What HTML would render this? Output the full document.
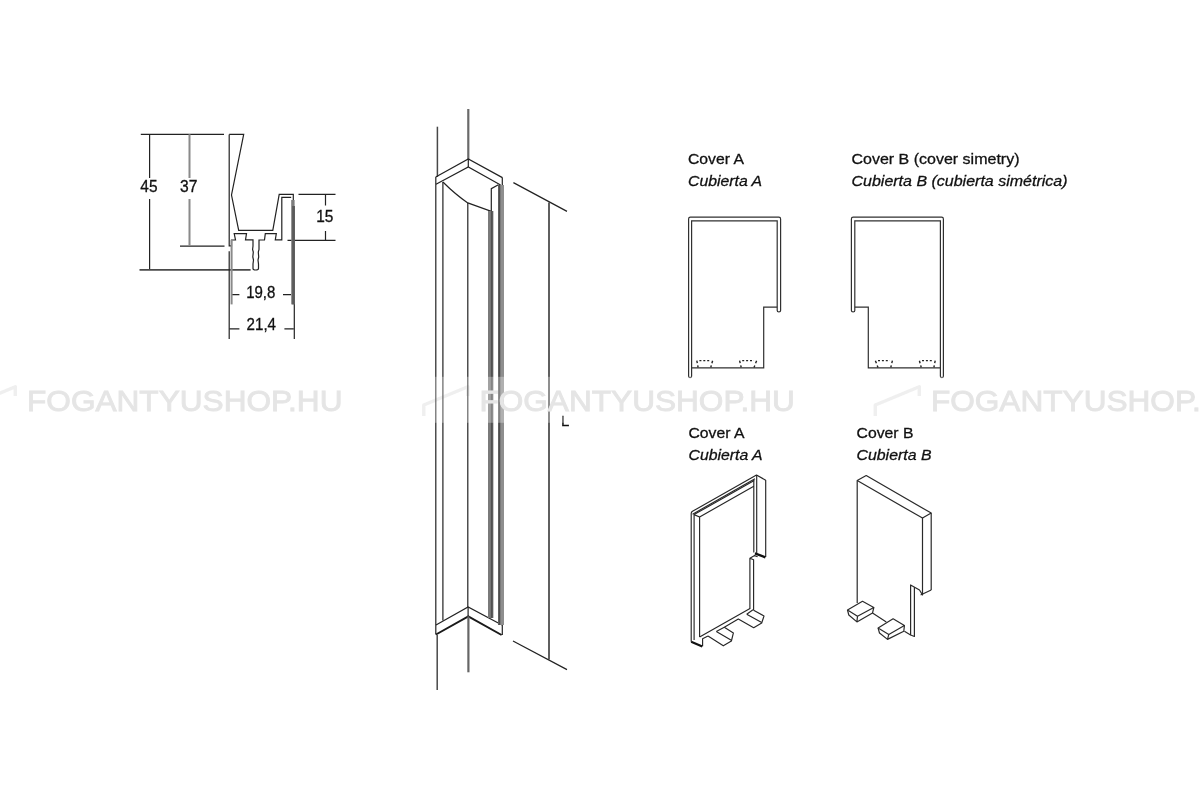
<!DOCTYPE html>
<html><head><meta charset="utf-8">
<style>
html,body{margin:0;padding:0;background:#fff;}
svg{display:block;}
text{font-family:"Liberation Sans",sans-serif;fill:#111;stroke:#111;stroke-width:0.3px;}
</style></head>
<body>
<svg style="filter:grayscale(1)" width="1200" height="800" viewBox="0 0 1200 800">
<rect width="1200" height="800" fill="#fff"/>

<!-- ============ LEFT PROFILE ============ -->
<g fill="none" stroke="#222" stroke-width="1.2">
  <!-- dimension lines -->
  <path d="M140.8 134.3H224"/>
  <path d="M149.6 134.3V178M149.6 199V269.8"/>
  <path d="M180 246.2H224.5"/>
  <path d="M139.5 269.9H250.6" stroke="#4a4a4a" stroke-width="1.8"/>
  <path d="M298.5 194.4H335.5M287.5 240.3H335.5"/>
  <path d="M325.5 194.4V205.5M325.5 231V240"/>
  <path d="M229.2 251.2V339"/>
  <path d="M294.3 206V339"/>
  <path d="M231.9 294.6H239.4M283 294.6H291"/>
  <path d="M229.4 328.8H239.4M284.4 328.8H293.8"/>
  <!-- profile -->
  <path d="M229.2 134.4V245.9H231.5V240H235.5L234.2 233.6H246.5L245.5 239.8H253V246"/>
  <path d="M229.2 134.4H243.7L231.5 195L238.7 230.4H272.8L279.2 194.4H293.3V200"/>
  <path d="M259 246V240H264.5L265.3 233.6H276.3L275.3 239.8H281.8V197.3H291.2"/>
  <path d="M253 246L252.6 249.5L253.3 252L252.8 257L253.5 260L253 264V268.5Q253 270 255.5 270Q258.5 270 258.5 268.5V264L258 260L258.7 257L258.3 252L259 249.5L259 246"/>
</g>
<g fill="none" stroke="#8a8a8a" stroke-width="2">
  <path d="M189.5 134.3V178M189.5 199V246"/>
  <path d="M231.6 240V304.4"/>
</g>
<rect x="291.2" y="200" width="3.4" height="104.4" fill="#7d7d7d"/><rect x="292.2" y="206" width="2" height="98.4" fill="#5a5a5a"/>
<g font-size="16.4" class="t">
  <text x="140.3" y="191.9" textLength="17.2" lengthAdjust="spacingAndGlyphs">45</text>
  <text x="180" y="191.9" textLength="17.4" lengthAdjust="spacingAndGlyphs">37</text>
  <text x="316.2" y="221.6" textLength="17.2" lengthAdjust="spacingAndGlyphs">15</text>
  <text x="246.2" y="298.4" textLength="29.2" lengthAdjust="spacingAndGlyphs">19,8</text>
  <text x="246.6" y="330.3" textLength="29.4" lengthAdjust="spacingAndGlyphs">21,4</text>
</g>

<!-- ============ COLUMN ============ -->
<g fill="none" stroke="#222" stroke-width="1.2">
  <path d="M437.4 126.7V177" stroke="#484848" stroke-width="1.5"/><path d="M468.3 109V159" stroke="#6a6a6a" stroke-width="2.2"/>
  <path d="M435.7 177L468.3 159L502.4 177.6"/>
  <path d="M436 184.3L468.3 166.9L500.6 184.9"/>
  <path d="M468.3 159V167"/>
  <path d="M435.8 177V634.5"/>
  <path d="M502.3 177.6V635"/>
  <path d="M442.9 182V620.5"/>
  <path d="M442.9 182Q456 195 467.8 202.9L491.3 211.3V188.6L498.4 184.8"/>
  <path d="M467.8 202.9V607"/>
  <path d="M436 625L468.1 607L502 625"/>
  <path d="M468.1 607V616"/>
  <path d="M437.2 635V690" stroke="#484848" stroke-width="1.5"/>
  <path d="M513.4 182.6L567 211.4M513 641L567 669.6"/>
</g>
<path d="M436 634.5L468.3 616.3L501.6 635" fill="none" stroke="#1a1a1a" stroke-width="2"/>
<g fill="none" stroke="#666" stroke-width="2.2">
  <path d="M468.4 616.3V672.3"/>
</g>
<rect x="488" y="211" width="5.4" height="407" fill="#7a7a7a"/>
<rect x="490.9" y="211" width="1.8" height="407" fill="#505050"/>
<rect x="498" y="185" width="6" height="440" fill="#8e8e8e"/>
<rect x="498.3" y="185" width="2" height="440" fill="#4c4c4c"/>
<path d="M549 202.4V659.5" stroke="#2a2a2a" stroke-width="1.5" fill="none"/>
<text x="561" y="425.8" font-size="15">L</text>

<!-- ============ COVERS (2D) ============ -->
<g fill="none" stroke="#303030" stroke-width="1.2">
  <!-- A -->
  <path d="M691.6 376.2V220.9H777.2V310.6Q777.2 312 778.9 312Q780.6 312 780.6 310.6V219Q780.6 217.2 778.8 217.2H690.4Q688.6 217.2 688.6 219V376.2Q688.6 377.6 690.1 377.6Q691.6 377.6 691.6 376.2"/>
  <path d="M777.2 307.2H763.7V367.8H691.6"/>
  <!-- B -->
  <path d="M940.4 376.2V220.9H854.8V310.6Q854.8 312 853.1 312Q851.4 312 851.4 310.6V219Q851.4 217.2 853.2 217.2H941.6Q943.4 217.2 943.4 219V376.2Q943.4 377.6 941.9 377.6Q940.4 377.6 940.4 376.2"/>
  <path d="M854.8 307.2H868.3V367.8H940.4"/>
</g>
<g fill="none" stroke="#222" stroke-width="1.4">
  <path d="M696.8 360.7L697.3 363.2M697.7 365.4L698.1 367.4M712.6 360.7L711.9 363.2M711.3 365.4L710.8 367.4M739.6 360.7L740.2 363.2M740.7 365.4L741.2 367.4M756.6 360.7L755.6 363.2M754.8 365.4L754.0 367.4M935.2 360.7L934.7 363.2M934.3 365.4L933.9 367.4M919.4 360.7L920.1 363.2M920.7 365.4L921.2 367.4M892.4 360.7L891.8 363.2M891.3 365.4L890.8 367.4M875.4 360.7L876.4 363.2M877.2 365.4L878.0 367.4"/>
</g>
<g fill="none" stroke="#222" stroke-width="1.2" stroke-dasharray="2 1.9">
  <path d="M699.4 360.7H710.0M742.2 360.7H754.0M922.0 360.7H932.6M878.0 360.7H889.8"/>
</g>
<g font-size="15.5">
  <text x="688" y="163.9" textLength="56" lengthAdjust="spacingAndGlyphs">Cover A</text>
  <text x="688" y="186.1" font-style="italic" textLength="74" lengthAdjust="spacingAndGlyphs">Cubierta A</text>
  <text x="851.5" y="163.9" textLength="168" lengthAdjust="spacingAndGlyphs">Cover B (cover simetry)</text>
  <text x="851.5" y="186.1" font-style="italic" textLength="216" lengthAdjust="spacingAndGlyphs">Cubierta B (cubierta simétrica)</text>
  <text x="688.5" y="438.3" textLength="56" lengthAdjust="spacingAndGlyphs">Cover A</text>
  <text x="688.5" y="459.8" font-style="italic" textLength="74" lengthAdjust="spacingAndGlyphs">Cubierta A</text>
  <text x="856.5" y="438.3" textLength="57" lengthAdjust="spacingAndGlyphs">Cover B</text>
  <text x="856.5" y="459.8" font-style="italic" textLength="75" lengthAdjust="spacingAndGlyphs">Cubierta B</text>
</g>

<!-- ============ COVER A 3D ============ -->
<g fill="none" stroke="#262626" stroke-width="1.15" stroke-linejoin="round">
  <path d="M691.2 641.8V513.5Q691.2 512 692.5 511.3L756.5 475L765.7 480.2V557"/>
  <path d="M692.6 514.2L755 478.8"/>
  <path d="M694.1 640V514.6L754.2 480.4"/>
  <path d="M694.1 514.6L699.6 517"/>
  <path d="M699.6 637V517L753.8 486.2"/>
  <path d="M756.7 475V553.3"/>
  <path d="M753.8 480V552.5"/>
  <path d="M749.9 609V558.2L754.6 555.6L757.6 556.8M753.6 610.2V559.8L749.9 558.2"/>
  <path d="M699.6 637L750 608.5M702.6 646.3V638.7L708 636.1"/>
  <path d="M708 636.1L723.3 645.8L731.4 641L733.4 632.9L724.3 627.3L738.3 619L753.7 627.7L761.7 623L764 616L753.6 610.2"/>
  <path d="M716.3 631.6L731.3 640.3M716.3 631.6L724.3 627.3"/>
  <path d="M746.7 614.2L761.7 622.6M746.7 614.2L753 609.8"/>
</g>
<path d="M691.2 641.8L702.3 646.6" stroke="#111" stroke-width="2.2" fill="none"/>
<path d="M754.9 553.4L765.4 557.3" stroke="#111" stroke-width="2.4" fill="none"/>

<!-- ============ COVER B 3D ============ -->
<g fill="none" stroke="#2a2a2a" stroke-width="1.2" stroke-linejoin="round">
  <path d="M857.2 603V480.6L866.2 475.6L931.2 513.1V590"/>
  <path d="M857.2 480.6L922.5 518.1L931.2 513.1"/>
  <path d="M922.5 518.1V595L919.5 590L910.6 585V635L914.4 636.5V587"/>
  <path d="M920.6 595L931.2 590"/>
  <path d="M872.5 613.1L886.3 621.9M904.4 631.3L910.6 635"/>
  <!-- clip 1 -->
  <path d="M847.5 610L862.5 601.3L873.8 607.5L857.5 616.3Z"/>
  <path d="M847.5 610L848.8 615L856.9 621.9L872.5 613.1L873.8 607.5M857.5 616.3L856.9 621.9"/>
  <!-- clip 2 -->
  <path d="M878.1 628.1L893.1 618.8L904.4 625.6L888.8 634.4Z"/>
  <path d="M878.1 628.1L879.5 633L887.5 639.4L903.8 631.3L904.4 625.6M888.8 634.4L887.5 639.4"/>
</g>

<!-- ============ WATERMARK ============ -->
<rect x="0" y="376.8" width="1200" height="46" fill="#fff" fill-opacity="0.3"/>
<defs><filter id="bl" x="-20%" y="-50%" width="140%" height="200%"><feGaussianBlur stdDeviation="0.7"/></filter></defs>
<g fill="none" stroke="#707070" stroke-opacity="0.11" stroke-width="3.4" stroke-linejoin="round" filter="url(#bl)">
<path d="M-28.7 416V405L15.3 386.7V396" />
<path d="M423.8 416V405L467.8 386.7V396" />
<path d="M875.3 416V405L919.3 386.7V396" />
</g>
<g font-size="30.2" font-weight="normal">
  <text x="27" y="410.6" textLength="315.5" lengthAdjust="spacingAndGlyphs" style="fill:#e5e5e5;stroke:#e5e5e5;stroke-width:0.9px">FOGANTYUSHOP.HU</text>
  <text x="479.4" y="410.6" textLength="315.5" lengthAdjust="spacingAndGlyphs" style="fill:#e5e5e5;stroke:#e5e5e5;stroke-width:0.9px">FOGANTYUSHOP.HU</text>
  <text x="930.9" y="410.6" textLength="315.5" lengthAdjust="spacingAndGlyphs" style="fill:#e5e5e5;stroke:#e5e5e5;stroke-width:0.9px">FOGANTYUSHOP.HU</text>
</g>
</svg>
</body></html>
